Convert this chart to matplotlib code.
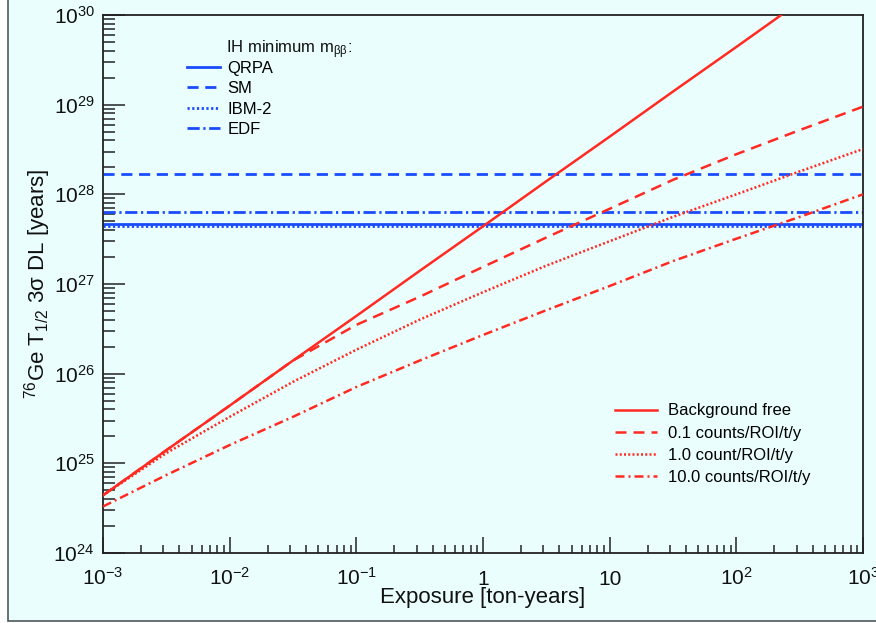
import matplotlib
matplotlib.use("Agg")
import matplotlib.pyplot as plt
from matplotlib.lines import Line2D
from matplotlib.patches import Rectangle
from matplotlib.ticker import FixedLocator, FixedFormatter, LogLocator, NullFormatter

plt.rcParams["font.family"] = ["Liberation Sans", "DejaVu Sans"]
plt.rcParams["mathtext.fontset"] = "custom"
plt.rcParams["mathtext.rm"] = "Liberation Sans"
plt.rcParams["mathtext.it"] = "Liberation Sans:italic"
plt.rcParams["mathtext.bf"] = "Liberation Sans:bold"

# exposure grid (ton-years), half decades
exposure = [1e-3, 3.16e-3, 1e-2, 3.16e-2, 1e-1, 3.16e-1, 1, 3.16, 10, 31.6, 100, 316, 1000]

# 76Ge T1/2 3 sigma discovery level [years]
t_bg_free = [4.4e24, 1.4e25, 4.4e25, 1.4e26, 4.4e26, 1.4e27, 4.4e27, 1.4e28, 4.4e28,
             1.4e29, 4.4e29, 1.4e30, 4.4e30]
t_bg_0p1 = [4.4e24, 1.4e25, 4.4e25, 1.4e26, 3.5e26, 7.2e26, 1.55e27, 3.3e27, 6.9e27,
            1.45e28, 2.8e28, 5.2e28, 9.5e28]
t_bg_1 = [4.4e24, 1.3e25, 3.3e25, 8.1e25, 1.85e26, 4.0e26, 8.1e26, 1.6e27, 3.0e27,
          5.6e27, 1.0e28, 1.8e28, 3.2e28]
t_bg_10 = [3.3e24, 7.4e24, 1.6e25, 3.3e25, 7.1e25, 1.4e26, 2.7e26, 5.1e26, 9.5e26,
           1.8e27, 3.2e27, 5.6e27, 1.0e28]
bg_labels = ["Background free", "0.1 counts/ROI/t/y", "1.0 count/ROI/t/y",
             "10.0 counts/ROI/t/y"]

# IH minimum m_bb half-life per nuclear matrix element model
ih_title = r"IH minimum m$_{\mathrm{ββ}}$:"
ih_labels = ["QRPA", "SM", "IBM-2", "EDF"]
ih_min = [4.7e27, 1.7e28, 4.4e27, 6.3e27]

x_ticks = [1e-3, 1e-2, 1e-1, 1, 10, 1e2, 1e3]
x_tick_labels = [r"$10^{-3}$", r"$10^{-2}$", r"$10^{-1}$", "1", "10", r"$10^{2}$", r"$10^{3}$"]
y_ticks = [1e24, 1e25, 1e26, 1e27, 1e28, 1e29, 1e30]
y_tick_labels = [r"$10^{24}$", r"$10^{25}$", r"$10^{26}$", r"$10^{27}$", r"$10^{28}$",
                 r"$10^{29}$", r"$10^{30}$"]

BG = "#eafefe"
RED = "#ff2a22"
BLUE = "#1a4cff"
DARK = "#222222"
LW = 1.8

styles = ["-", (0, (4.4, 2.8)), (0, (0.8, 0.9)), (0, (3.6, 1.6, 0.8, 1.6))]
blue_styles = ["-", (0, (4.0, 2.4)), (0, (0.8, 0.9)), (0, (4.4, 1.3, 0.8, 1.3))]

fig = plt.figure(figsize=(8.76, 6.23), dpi=100)
fig.patch.set_facecolor("white")
fig.add_artist(Rectangle((8 / 876, 2.5 / 623), 1.2, 1.2, transform=fig.transFigure,
                         facecolor=BG, edgecolor="#50565a", linewidth=1.2, zorder=-10))

ax = fig.add_axes([103 / 876, 70 / 623, 760 / 876, 538 / 623])
ax.set_facecolor(BG)
ax.set_xscale("log")
ax.set_yscale("log")
ax.set_xlim(1e-3, 1e3)
ax.set_ylim(1e24, 1e30)

# horizontal IH lines
ih_handles = []
for val, ls in zip(ih_min, blue_styles):
    ax.axhline(val, color=BLUE, lw=LW + 0.2, ls=ls, zorder=2)
    ih_handles.append(Line2D([], [], color=BLUE, lw=LW + 0.2, ls=ls))

# discovery curves
bg_handles = []
for series, ls in zip([t_bg_free, t_bg_0p1, t_bg_1, t_bg_10], styles):
    h, = ax.plot(exposure, series, color=RED, lw=LW, ls=ls, zorder=3)
    bg_handles.append(h)

# ticks
ax.xaxis.set_major_locator(FixedLocator(x_ticks))
ax.xaxis.set_major_formatter(FixedFormatter(x_tick_labels))
ax.xaxis.set_minor_locator(LogLocator(base=10, subs=range(2, 10), numticks=100))
ax.xaxis.set_minor_formatter(NullFormatter())
ax.yaxis.set_major_locator(FixedLocator(y_ticks))
ax.yaxis.set_major_formatter(FixedFormatter(y_tick_labels))
ax.yaxis.set_minor_locator(LogLocator(base=10, subs=range(2, 10), numticks=100))
ax.yaxis.set_minor_formatter(NullFormatter())

ax.tick_params(which="both", direction="in", top=False, right=False,
               labelsize=15, color=DARK, width=1.1, labelcolor="#111111")
ax.tick_params(axis="y", which="major", length=16, pad=6)
ax.tick_params(axis="y", which="minor", length=8.4)
ax.tick_params(axis="x", which="major", length=11.3, pad=23)
ax.tick_params(axis="x", which="minor", length=5.5)
plt.setp(ax.get_xticklabels(), va="baseline")

for sp in ax.spines.values():
    sp.set_color(DARK)
    sp.set_linewidth(1.3)

fig.text(483 / 876, 1 - 598 / 623, "Exposure [ton-years]", ha="center", va="center",
         fontsize=16, color="#111111")
fig.text(38 / 876, 1 - 284 / 623, r"$^{76}$Ge T$_{1/2}$ 3σ DL [years]", rotation=90,
         ha="center", va="center", fontsize=16, color="#111111")

# legends
fig.text(226 / 876, 1 - 46 / 623, ih_title, ha="left", va="center_baseline",
         fontsize=12, color="#111111")
leg1 = ax.legend(ih_handles, ih_labels, loc="upper left",
                 bbox_to_anchor=(187 / 876, 1 - 60.5 / 623), bbox_transform=fig.transFigure,
                 frameon=False, fontsize=12, handlelength=2.0, handletextpad=0.42,
                 labelspacing=0.33, borderpad=0, borderaxespad=0)
ax.add_artist(leg1)
ax.legend(bg_handles, bg_labels, loc="upper left",
          bbox_to_anchor=(615 / 876, 1 - 403.5 / 623), bbox_transform=fig.transFigure,
          frameon=False, fontsize=12, handlelength=2.5, handletextpad=0.66,
          labelspacing=0.43, borderpad=0, borderaxespad=0)

fig.savefig("out.png", dpi=100, facecolor=fig.get_facecolor())
